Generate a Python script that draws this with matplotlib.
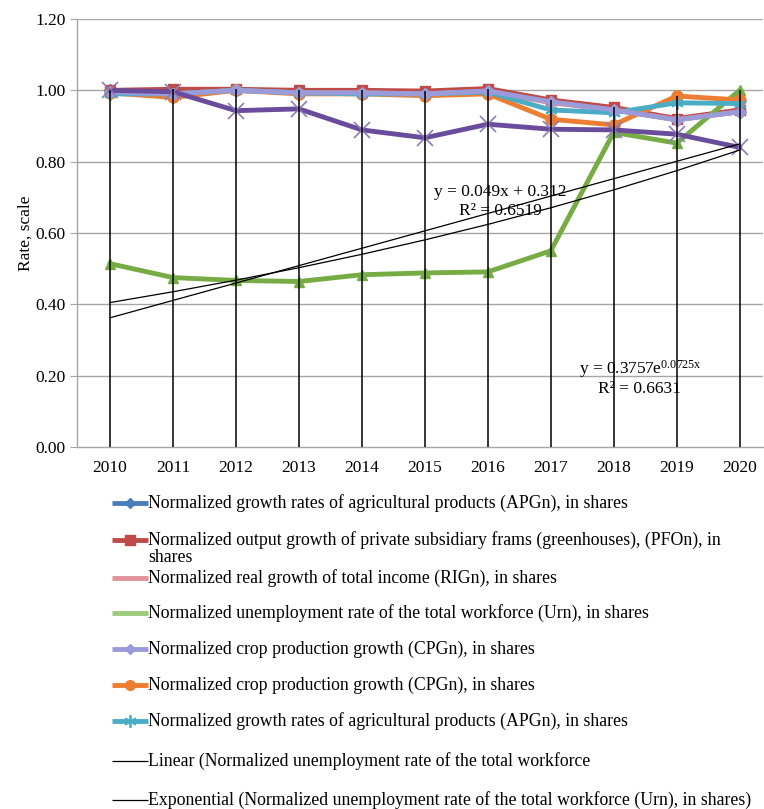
import numpy as np
import matplotlib
matplotlib.use("Agg")
import matplotlib.pyplot as plt
from matplotlib.lines import Line2D

plt.rcParams['font.family'] = ['Liberation Serif', 'DejaVu Serif']
plt.rcParams['mathtext.fontset'] = 'custom'
plt.rcParams['mathtext.rm'] = 'Liberation Serif'
plt.rcParams['mathtext.it'] = 'Liberation Serif:italic'

# ---- data ----
years = ['2010', '2011', '2012', '2013', '2014', '2015', '2016', '2017', '2018', '2019', '2020']

apgn = [1.000, 0.995, 1.000, 0.995, 0.995, 0.993, 1.000, 0.968, 0.945, 0.918, 0.940]
pfon = [1.000, 1.003, 1.003, 1.000, 1.000, 0.998, 1.005, 0.973, 0.952, 0.921, 0.945]
rign = [0.995, 0.990, 1.000, 0.993, 0.993, 0.990, 0.998, 0.965, 0.945, 0.918, 0.940]
urn = [0.514, 0.475, 0.467, 0.464, 0.483, 0.488, 0.491, 0.550, 0.882, 0.852, 1.000]
cpgn = [0.995, 0.990, 1.000, 0.993, 0.993, 0.990, 0.998, 0.968, 0.945, 0.917, 0.940]
cpgn2 = [0.993, 0.980, 1.000, 0.990, 0.990, 0.985, 0.990, 0.919, 0.903, 0.984, 0.973]
apgn2 = [0.990, 0.990, 1.000, 0.993, 0.990, 0.990, 0.995, 0.945, 0.937, 0.965, 0.963]
xline = [1.000, 0.996, 0.943, 0.948, 0.889, 0.867, 0.905, 0.891, 0.889, 0.877, 0.840]

labels = [
    'Normalized growth rates of agricultural products (APGn), in shares',
    'Normalized output growth of private subsidiary frams (greenhouses), (PFOn), in\nshares',
    'Normalized real growth of total income (RIGn), in shares',
    'Normalized unemployment rate of the total workforce (Urn), in shares',
    'Normalized crop production growth (CPGn), in shares',
    'Normalized crop production growth (CPGn), in shares',
    'Normalized growth rates of agricultural products (APGn), in shares',
    'Linear (Normalized unemployment rate of the total workforce',
    'Exponential (Normalized unemployment rate of the total workforce (Urn), in shares)',
]

x = np.arange(len(years))

fig = plt.figure(figsize=(7.64, 8.09), dpi=100)
ax = fig.add_axes([77 / 764, 1 - 447 / 809, 686 / 764, 428 / 809])

# horizontal grid
for v in np.arange(0.2, 1.21, 0.2):
    ax.axhline(v, color='#a6a6a6', lw=1.0, zorder=0)

# series
ax.plot(x, apgn, color='#4a7ebb', lw=3.5, marker='D', ms=6, zorder=2)
ax.plot(x, pfon, color='#be4b48', lw=3.5, marker='s', ms=7, zorder=2)
ax.plot(x, rign, color='#e0939a', lw=3.5, zorder=2)
ax.plot(x, urn, color='#77ac45', lw=3.5, marker='^', ms=7, zorder=3)
ax.plot(x, cpgn2, color='#ed7d31', lw=3.5, marker='o', ms=8, zorder=3)
ax.plot(x, apgn2, color='#4bacc6', lw=3.5, marker=(6, 2, 0), ms=9, mew=1.3, zorder=3)
ax.plot(x, cpgn, color='#9b9bd9', lw=3.5, marker='D', ms=6, zorder=3)
ax.plot(x, xline, color='#6a4c9c', lw=3.5, marker='x', ms=11, mew=1.2,
        mec='#8c7cb8', zorder=4)

# drop lines
allser = np.array([apgn, pfon, rign, urn, cpgn, cpgn2, apgn2, xline])
ax.vlines(x, 0, allser.max(axis=0), color='black', lw=1.1, zorder=5)

# trend lines for Urn
t = x + 1
lin = np.polyfit(t, urn, 1)
ex = np.polyfit(t, np.log(urn), 1)
ax.plot(x, np.polyval(lin, t), color='black', lw=0.9, zorder=5)
ax.plot(x, np.exp(np.polyval(ex, t)), color='black', lw=0.9, zorder=5)

ax.text(6.2, 0.715, 'y = 0.049x + 0.312', ha='center', va='center', fontsize=12.5, zorder=6)
ax.text(6.2, 0.662, 'R² = 0.6519', ha='center', va='center', fontsize=12.5, zorder=6)
ax.text(8.42, 0.218, r'y = 0.3757e$^{\mathrm{0.0725x}}$', ha='center', va='center',
        fontsize=12.5, zorder=6)
ax.text(8.4, 0.163, 'R² = 0.6631', ha='center', va='center', fontsize=12.5, zorder=6)

ax.set_xlim(-0.524, 10.37)
ax.set_ylim(0, 1.2)
ax.set_xticks(x)
ax.set_xticklabels(years, fontsize=12.5)
ax.set_yticks(np.arange(0, 1.21, 0.2))
ax.set_yticklabels(['%.2f' % v for v in np.arange(0, 1.21, 0.2)], fontsize=12.5)
ax.tick_params(axis='x', length=0, pad=9)
ax.tick_params(axis='y', length=5, color='#a6a6a6', pad=3)
ax.set_ylabel('Rate, scale', fontsize=12.5, labelpad=1)
for s in ['top', 'right']:
    ax.spines[s].set_visible(False)
for s in ['left', 'bottom']:
    ax.spines[s].set_color('#a6a6a6')
    ax.spines[s].set_linewidth(1.0)

# legend drawn below the plot, one entry per row
handles = [
    dict(color='#4a7ebb', lw=3.5, marker='D', ms=5),
    dict(color='#be4b48', lw=3.5, marker='s', ms=7),
    dict(color='#e0939a', lw=3.5, marker=None, ms=0),
    dict(color='#9ccb7c', lw=3.5, marker=None, ms=0),
    dict(color='#9b9bd9', lw=3.5, marker='D', ms=5),
    dict(color='#ed7d31', lw=3.5, marker='o', ms=7),
    dict(color='#4bacc6', lw=3.5, marker=(6, 2, 0), ms=9, mew=1.3),
    dict(color='black', lw=0.9, marker=None, ms=0),
    dict(color='black', lw=0.9, marker=None, ms=0),
]
rows = [503, 540, 578, 613, 649, 685, 721, 761, 800]
for h, lab, r in zip(handles, labels, rows):
    yf = 1 - r / 809
    fig.add_artist(Line2D([112 / 764, 148 / 764], [yf, yf], transform=fig.transFigure,
                          color=h['color'], lw=h['lw'], solid_capstyle='butt'))
    if h['marker']:
        fig.add_artist(Line2D([130 / 764], [yf], transform=fig.transFigure,
                              color=h['color'], marker=h['marker'], ms=h['ms'],
                              mew=h.get('mew', 1.0), linestyle='None'))
    for k, part in enumerate(lab.split('\n')):
        fig.text(148 / 764, 1 - (r + 18 * k) / 809, part, ha='left', va='center',
                 fontsize=12.8)

plt.savefig('out.png', dpi=100)
